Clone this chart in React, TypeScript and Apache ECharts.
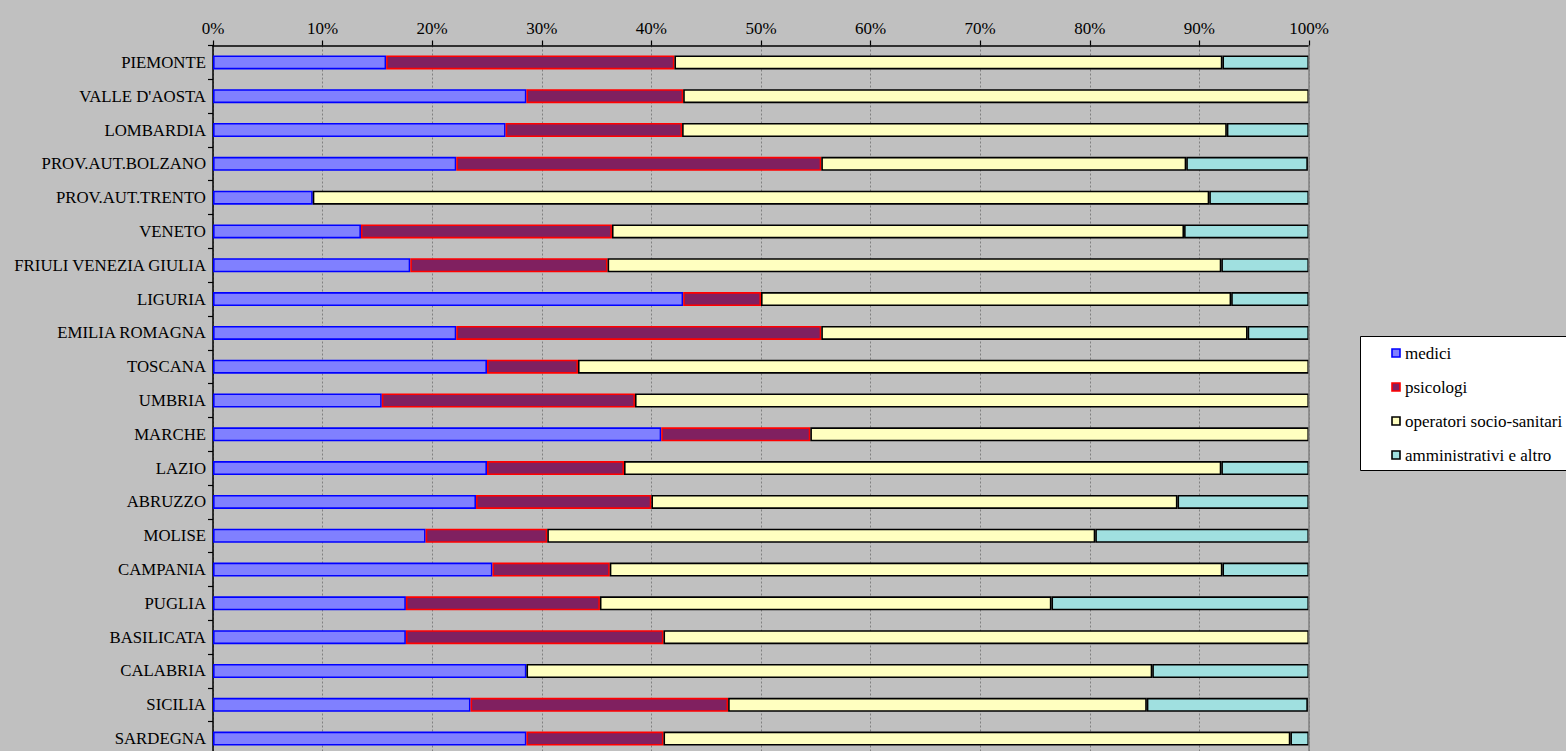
import React, { useEffect, useRef } from "react";
import * as echarts from "echarts";

const categories = [
  "PIEMONTE", "VALLE D'AOSTA", "LOMBARDIA", "PROV.AUT.BOLZANO", "PROV.AUT.TRENTO",
  "VENETO", "FRIULI VENEZIA GIULIA", "LIGURIA", "EMILIA ROMAGNA", "TOSCANA",
  "UMBRIA", "MARCHE", "LAZIO", "ABRUZZO", "MOLISE", "CAMPANIA", "PUGLIA",
  "BASILICATA", "CALABRIA", "SICILIA", "SARDEGNA",
];

const medici = [15.8, 28.6, 26.7, 22.2, 9.1, 13.5, 18, 42.9, 22.2, 25, 15.4, 40.9, 25, 24, 19.4, 25.5, 17.6, 17.6, 28.6, 23.5, 28.6];
const psicologi = [26.3, 14.3, 16.1, 33.3, 0, 22.9, 18, 7.1, 33.3, 8.3, 23.1, 13.6, 12.5, 16, 11.1, 10.7, 17.7, 23.5, 0, 23.5, 12.5];
const operatori = [50, 57.1, 49.7, 33.3, 81.8, 52.2, 56, 42.9, 38.9, 66.7, 61.5, 45.5, 54.5, 48, 50, 55.9, 41.2, 58.9, 57.1, 38.2, 57.2];
const amministrativi = [7.9, 0, 7.5, 11.1, 9.1, 11.4, 8, 7.1, 5.6, 0, 0, 0, 8, 12, 19.5, 7.9, 23.5, 0, 14.3, 14.7, 1.7];

const seriesNames = ["medici", "psicologi", "operatori socio-sanitari", "amministrativi e altro"];
const fills = ["#8080ff", "#802060", "#ffffc0", "#a0e0e0"];
const borders = ["#0000ff", "#ff0000", "#000000", "#000000"];

const tickValues = [0, 10, 20, 30, 40, 50, 60, 70, 80, 90, 100];

const FONT = "Liberation Serif";

const clean = (arr: number[]) => arr.map((v) => (v === 0 ? "-" : v));

export default function App() {
  const ref = useRef<HTMLDivElement>(null);
  useEffect(() => {
    if (!ref.current) return;
    const chart = echarts.init(ref.current, undefined, { renderer: "svg" });
    const values = [medici, psicologi, operatori, amministrativi];
    const series: any[] = seriesNames.map((name, i) => ({
      name,
      type: "bar",
      stack: "total",
      barWidth: 14,
      data: clean(values[i]),
      itemStyle: { color: fills[i], borderColor: borders[i], borderWidth: 1.6 },
      emphasis: { disabled: true },
    }));
    series[3].markLine = {
      silent: true,
      symbol: "none",
      label: { show: false },
      lineStyle: { color: "#808080", type: "solid", width: 1.5 },
      data: [{ xAxis: 100 }],
    };

    // legend box (drawn as graphic so the serif font is honoured)
    const legendLeft = 1360;
    const legendTop = 336;
    const rowGap = 34;
    const firstRow = 17;
    const legendEls: any[] = [
      {
        type: "rect",
        left: legendLeft,
        top: legendTop,
        shape: { width: 240, height: 134 },
        style: { fill: "#ffffff", stroke: "#000000", lineWidth: 1 },
        silent: true,
      },
    ];
    seriesNames.forEach((name, i) => {
      const cy = legendTop + firstRow + i * rowGap;
      legendEls.push({
        type: "rect",
        x: legendLeft + 32,
        y: cy - 4,
        shape: { width: 8, height: 8 },
        style: { fill: fills[i], stroke: borders[i], lineWidth: 1.6 },
        silent: true,
      });
      legendEls.push({
        type: "text",
        x: legendLeft + 45,
        y: cy,
        style: {
          text: name,
          fontFamily: FONT,
          fontSize: 17,
          fill: "#000",
          verticalAlign: "middle",
          align: "left",
        },
        silent: true,
      });
    });

    chart.setOption({
      animation: false,
      backgroundColor: "#c0c0c0",
      textStyle: { fontFamily: FONT },
      grid: { left: 213, top: 45.5, width: 1096, height: 710 },
      legend: { show: false },
      graphic: legendEls,
      xAxis: {
        type: "value",
        position: "top",
        min: 0,
        max: 100,
        interval: 10,
        axisLine: { show: true, lineStyle: { color: "#000", width: 1.5 } },
        axisTick: { show: true, length: 5, inside: false, lineStyle: { color: "#000", width: 1.2 } },
        axisLabel: {
          formatter: (v: number) => (tickValues.includes(v) ? v + "%" : ""),
          fontFamily: FONT,
          fontSize: 17,
          color: "#000",
          margin: 9,
        },
        splitLine: { show: true, lineStyle: { color: "#808080", type: [2, 2], width: 1 } },
      },
      yAxis: {
        type: "category",
        inverse: true,
        data: categories,
        axisLine: { show: true, lineStyle: { color: "#000", width: 1.5 } },
        axisTick: { show: true, length: 5, lineStyle: { color: "#000", width: 1.2 } },
        axisLabel: { fontFamily: FONT, fontSize: 16.8, color: "#000", margin: 7 },
      },
      series,
    });
    return () => chart.dispose();
  }, []);
  return (
    <div style={{ position: "absolute", left: 0, top: 0, width: 1566, height: 751, overflow: "hidden" }}>
      <div ref={ref} style={{ width: 1566, height: 780 }} />
    </div>
  );
}
